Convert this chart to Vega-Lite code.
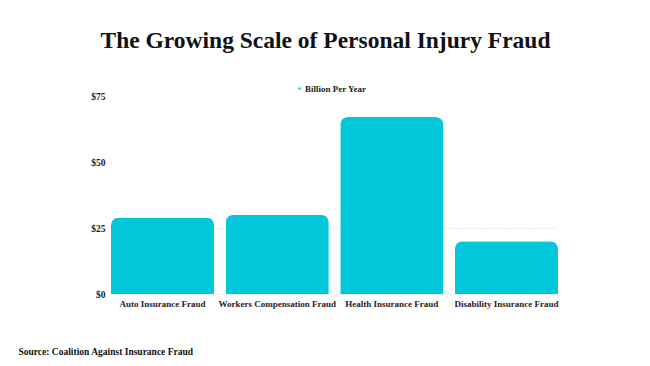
{
  "$schema": "https://vega.github.io/schema/vega-lite/v6.json",
  "autosize": {"type": "none"},
  "width": 447,
  "height": 198,
  "padding": {"left": 111, "top": 96, "right": 92, "bottom": 72},
  "background": "white",
  "title": {
    "text": "The Growing Scale of Personal Injury Fraud",
    "font": "Liberation Serif",
    "fontSize": 23.5,
    "fontWeight": "bold",
    "color": "#111111",
    "anchor": "middle",
    "dx": -9,
    "offset": 32
  },
  "data": {
    "values": [
      {"category": "Auto Insurance Fraud", "value": 29, "series": "Billion Per Year"},
      {"category": "Workers Compensation Fraud", "value": 30, "series": "Billion Per Year"},
      {"category": "Health Insurance Fraud", "value": 67, "series": "Billion Per Year"},
      {"category": "Disability Insurance Fraud", "value": 20, "series": "Billion Per Year"}
    ]
  },
  "mark": {"type": "bar", "cornerRadiusTopLeft": 8, "cornerRadiusTopRight": 8},
  "encoding": {
    "x": {
      "field": "category",
      "type": "nominal",
      "sort": null,
      "scale": {"paddingInner": 0.1, "paddingOuter": 0},
      "axis": {
        "labelAngle": 0,
        "labelFont": "Liberation Serif",
        "labelFontWeight": "bold",
        "labelFontSize": 9,
        "labelColor": "#222222",
        "labelPadding": 5,
        "domain": false,
        "ticks": false,
        "grid": false,
        "title": "Source: Coalition Against Insurance Fraud",
        "titleFont": "Liberation Serif",
        "titleFontWeight": "bold",
        "titleFontSize": 9.5,
        "titleColor": "#111111",
        "titleAnchor": "start",
        "titleAlign": "left",
        "titleBaseline": "middle",
        "titleX": -93,
        "titleY": 57
      }
    },
    "y": {
      "field": "value",
      "type": "quantitative",
      "scale": {"domain": [0, 75]},
      "axis": {
        "values": [0, 25, 50, 75],
        "labelExpr": "'$' + datum.value",
        "labelFont": "Liberation Serif",
        "labelFontWeight": "bold",
        "labelFontSize": 9.5,
        "labelColor": "#222222",
        "labelPadding": 6,
        "domain": false,
        "ticks": false,
        "grid": true,
        "gridColor": {"condition": {"test": "datum.value <= 25", "value": "#d8d8d8"}, "value": "transparent"},
        "gridDash": [1, 2],
        "title": null
      }
    },
    "color": {
      "field": "series",
      "type": "nominal",
      "scale": {"range": ["#00C8DA"]},
      "legend": {
        "title": null,
        "orient": "none",
        "legendX": 184,
        "legendY": -12,
        "symbolType": "circle",
        "symbolSize": 6,
        "labelFont": "Liberation Serif",
        "labelFontWeight": "bold",
        "labelFontSize": 9,
        "labelColor": "#222222",
        "labelOffset": 1
      }
    }
  },
  "config": {"view": {"stroke": null}}
}
